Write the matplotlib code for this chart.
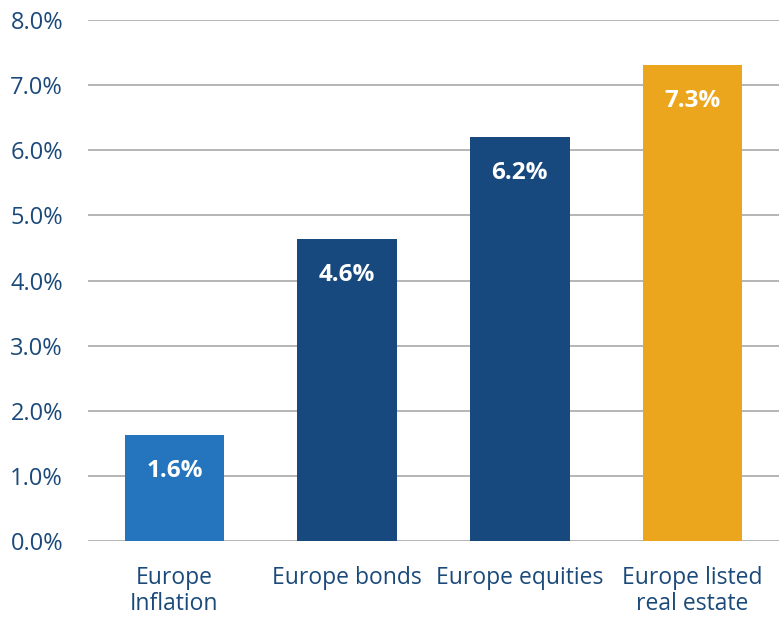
import matplotlib
matplotlib.use("Agg")
import matplotlib.pyplot as plt

categories = ["Europe\nInflation", "Europe bonds", "Europe equities", "Europe listed\nreal estate"]
values = [1.62, 4.63, 6.20, 7.31]
labels = ["1.6%", "4.6%", "6.2%", "7.3%"]
colors = ["#2475BD", "#17497E", "#17497E", "#EBA61E"]
yticks = [0, 1, 2, 3, 4, 5, 6, 7, 8]
ytick_labels = ["0.0%", "1.0%", "2.0%", "3.0%", "4.0%", "5.0%", "6.0%", "7.0%", "8.0%"]

plt.rcParams['font.family'] = ['Open Sans', 'DejaVu Sans']
text_color = "#1B4A7A"

fig = plt.figure(figsize=(7.79, 6.17), dpi=100)
ax = fig.add_axes([88/779, 1 - 541/617, (779 - 88)/779, (541 - 20)/617])

x = list(range(len(categories)))
ax.bar(x, values, width=0.576, color=colors, zorder=3)
for xi, v, lab in zip(x, values, labels):
    ax.text(xi, v - 0.55, lab, ha="center", va="center", color="white",
            fontsize=17.5, fontweight="bold", zorder=4)

ax.set_xlim(-0.5, 3.5)
ax.set_ylim(0, 8)
ax.set_yticks(yticks)
ax.set_yticklabels(ytick_labels, color=text_color, fontsize=17)
ax.set_xticks(x)
ax.set_xticklabels(categories, color=text_color, fontsize=16.5, linespacing=1.1)
ax.tick_params(axis="both", length=0)
ax.tick_params(axis="y", pad=18)
ax.tick_params(axis="x", pad=18)
ax.grid(axis="y", color="#B0B0B0", linewidth=1.3, zorder=0)
for s in ax.spines.values():
    s.set_visible(False)

fig.savefig("out.png", dpi=100)
